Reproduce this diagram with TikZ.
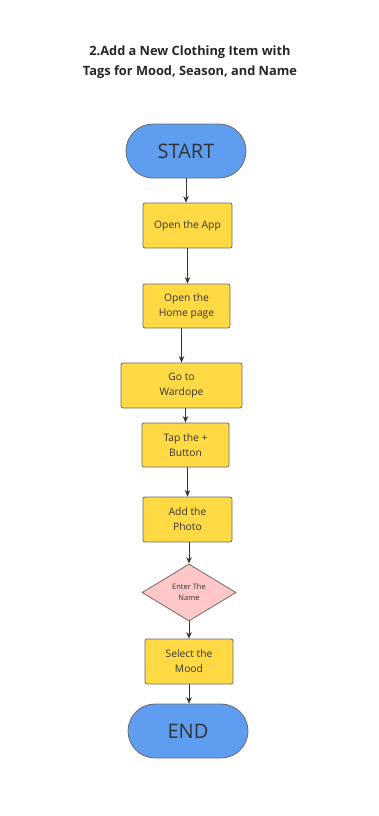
\documentclass[tikz,border=0pt]{standalone}
\usepackage{fontspec}
\setmainfont{Open Sans}
\usetikzlibrary{shapes.geometric,arrows.meta}
\definecolor{termblue}{HTML}{5E9DEF}
\definecolor{stepyellow}{HTML}{FFDA45}
\definecolor{askpink}{HTML}{FFC7C7}
\definecolor{edgegray}{HTML}{6A6A6A}
\definecolor{inkgray}{HTML}{333333}
\begin{document}
\begin{tikzpicture}[x=1pt,y=-1pt,
    stepbox/.style={draw=edgegray, line width=0.8pt, fill=stepyellow, rounded corners=2pt,
        minimum height=45pt, inner sep=0pt, align=center, text=inkgray, font=\fontsize{10.3}{15}\selectfont},
    termbox/.style={draw=edgegray, line width=0.8pt, fill=termblue, rounded corners=27pt,
        minimum width=120pt, minimum height=54pt, inner sep=0pt, text=inkgray, font=\fontsize{20}{24}\selectfont},
    askbox/.style={diamond, draw=edgegray, line width=0.8pt, fill=askpink, minimum width=94pt,
        minimum height=57pt, inner sep=0pt, align=center, text=inkgray, font=\fontsize{7.5}{11}\selectfont},
    arr/.style={-{Stealth[length=6.5pt,width=5.5pt]}, line width=1pt, draw=inkgray}]
    \useasboundingbox (0,0) rectangle (379,816);

    % title
    \node[align=center, text=black!85, font=\bfseries\fontsize{12.8}{20}\selectfont] (title) at (190,62)
        {2.Add a New Clothing Item with\\Tags for Mood, Season, and Name};

    % steps
    \node[termbox] (start) at (186,151) {START};
    \node[stepbox, minimum width=89pt] (app) at (187.5,225.5) {Open the App};
    \node[stepbox, minimum width=87pt, minimum height=44pt] (home) at (186.5,306) {Open the\\Home page};
    \node[stepbox, minimum width=121pt] (wardope) at (181.5,385.5) {Go to\\Wardope};
    \node[stepbox, minimum width=87pt, minimum height=44pt] (tap) at (185.5,445) {Tap the +\\Button};
    \node[stepbox, minimum width=89pt] (photo) at (187.5,519.5) {Add the\\Photo};
    \node[askbox] (name) at (189,592.5) {Enter The\\Name};
    \node[stepbox, minimum width=88pt] (mood) at (189,661.5) {Select the\\Mood};
    \node[termbox] (stop) at (188,731) {END};

    % arrows
    \draw[arr] (start.south) -- (start.south |- app.north);
    \draw[arr] (app.south) -- (app.south |- home.north);
    \draw[arr] (home.south -| wardope.north) -- (wardope.north);
    \draw[arr] (wardope.south -| tap.north) -- (tap.north);
    \draw[arr] (tap.south -| photo.north) -- (photo.north);
    \draw[arr] (name.north |- photo.south) -- (name.north);
    \draw[arr] (name.south) -- (name.south |- mood.north);
    \draw[arr] (mood.south) -- (mood.south |- stop.north);
\end{tikzpicture}
\end{document}
